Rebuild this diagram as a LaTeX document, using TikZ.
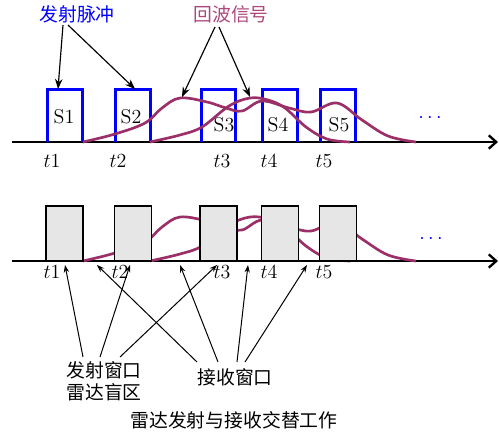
\documentclass[tikz,border=0pt]{standalone}
\usepackage{fontspec}
\newfontfamily\cjk{Noto Sans CJK SC}
\usetikzlibrary{arrows.meta}
\definecolor{pulseblue}{RGB}{0,0,255}
\definecolor{echo}{RGB}{155,48,105}
\definecolor{echotext}{RGB}{172,72,125}
\definecolor{gatefill}{RGB}{230,230,230}
\begin{document}
\begin{tikzpicture}[x=0.6pt,y=-0.6pt,
  every node/.style={font=\fontsize{12}{14}\selectfont, inner sep=0pt},
  cjklabel/.style={font=\cjk\fontsize{11.3}{13.2}\selectfont, align=center},
  pulsebox/.style={minimum width=20.4pt, minimum height=31.2pt},
  pulseline/.style={draw=pulseblue, line width=1.8pt},
  gate/.style={draw=black, fill=gatefill, line width=0.7pt,
               minimum width=22.2pt, minimum height=33pt},
  echoline/.style={draw=echo, line width=1.6pt, smooth, tension=0.6},
  timeaxis/.style={line width=1.4pt, -{Straight Barb[length=4.5pt,width=8pt,line width=1.4pt]}},
  bigpointer/.style={line width=0.7pt, -{Stealth[length=6pt,width=4.5pt]}},
  pointer/.style={line width=0.6pt, -{Stealth[length=4.5pt,width=3.2pt]}},
  dots/.style={text=pulseblue}
]
\useasboundingbox (0,0) rectangle (499,434);

% ---------- upper row: transmitted pulses and echoes ----------
\coordinate (a1) at (12,142);
\coordinate (a2) at (498,142);
\draw[timeaxis] (a1) -- (a2);

\foreach \i/\xl/\xr in {1/48/82, 2/115/151, 3/201/236, 4/263/297, 5/321/355}{
  \node[pulsebox] (p\i) at ({(\xl+\xr)/2},116) {};
  \draw[pulseline] (p\i.south west) |- (p\i.north east) -- (p\i.south east);
}
\node (s1) at (64,117) {S1};
\node (s2) at (131,117) {S2};
\node (s3) at (224,125) {S3};
\node (s4) at (278,125) {S4};
\node (s5) at (339,125) {S5};

% echo of the first pulse
\draw[echoline] plot coordinates {(83,142) (115,134) (145,123) (162,108) (180,98)
  (207,102) (226,108) (242,111) (262,101) (289,108) (311,112) (337,103)
  (362,120) (388,136) (416,142)};
% echo of the second pulse
\draw[echoline] plot coordinates {(150,142) (180,135) (202,127) (229,106) (250,98)
  (268,100) (285,108) (306,127) (327,139) (350,142)};

\foreach \i/\x in {1/52, 2/118, 3/222, 4/269, 5/324}{
  \node (tt\i) at (\x,161) {$t\i$};
}
\node[dots] (dt) at (430,118) {$\cdots$};

% labels with pointers
\node[cjklabel, text=pulseblue] (txpulse) at (77,14) {发射脉冲};
\node[cjklabel, text=echotext] (echolbl) at (231,14) {回波信号};
\coordinate (tp1) at (63,25);
\coordinate (tp2) at (68,25);
\coordinate (ep1) at (215,27);
\coordinate (ep2) at (219,27);
\coordinate (tp1e) at (58,89);
\coordinate (tp2e) at (135,89);
\coordinate (ep1e) at (182,97);
\coordinate (ep2e) at (250,97);
\draw[bigpointer] (tp1) -- (tp1e);
\draw[bigpointer] (tp2) -- (tp2e);
\draw[bigpointer] (ep1) -- (ep1e);
\draw[bigpointer] (ep2) -- (ep2e);

% ---------- lower row: transmit / receive windows ----------
\coordinate (b1) at (12,261);
\coordinate (b2) at (498,261);
\draw[timeaxis] (b1) -- (b2);

\begin{scope}[shift={(0,119)}]
\draw[echoline] plot coordinates {(83,142) (115,134) (145,123) (162,108) (180,98)
  (207,102) (226,108) (242,111) (262,101) (289,108) (311,112) (337,103)
  (362,120) (388,136) (416,142)};
\draw[echoline] plot coordinates {(150,142) (180,135) (202,127) (229,106) (250,98)
  (268,100) (285,108) (306,127) (327,139) (350,142)};
\end{scope}

\foreach \i/\xl/\xr in {1/46/83, 2/114/152, 3/200/237, 4/261/299, 5/319/357}{
  \node[gate] (g\i) at ({(\xl+\xr)/2},233.5) {};
}

\foreach \i/\x in {1/52, 2/120, 3/222, 4/269, 5/324}{
  \node (bt\i) at (\x,272) {$t\i$};
}
\node[dots] (db) at (431,239) {$\cdots$};

\node[cjklabel] (txwin) at (104,381) {发射窗口\\雷达盲区};
\node[cjklabel] (rxwin) at (235,377) {接收窗口};
\node[cjklabel] (title) at (234,420) {雷达发射与接收交替工作};

% pointer ends near the axis
\coordinate (w1) at (65,265);
\coordinate (w2) at (97,265);
\coordinate (w3) at (130,265);
\coordinate (w4) at (180,265);
\coordinate (w5) at (217,265);
\coordinate (w6) at (248,265);
\coordinate (w7) at (307,265);
% pointer starts at the labels
\coordinate (f1) at (83,357);
\coordinate (f2) at (100,357);
\coordinate (f3) at (120,357);
\coordinate (r1) at (197,362);
\coordinate (r2) at (218,362);
\coordinate (r3) at (237,362);
\coordinate (r4) at (245,362);

\draw[pointer] (f1) -- (w1);
\draw[pointer] (f2) -- (w3);
\draw[pointer] (f3) -- (w5);
\draw[pointer] (r1) -- (w2);
\draw[pointer] (r2) -- (w4);
\draw[pointer] (r3) -- (w6);
\draw[pointer] (r4) -- (w7);
\end{tikzpicture}
\end{document}
